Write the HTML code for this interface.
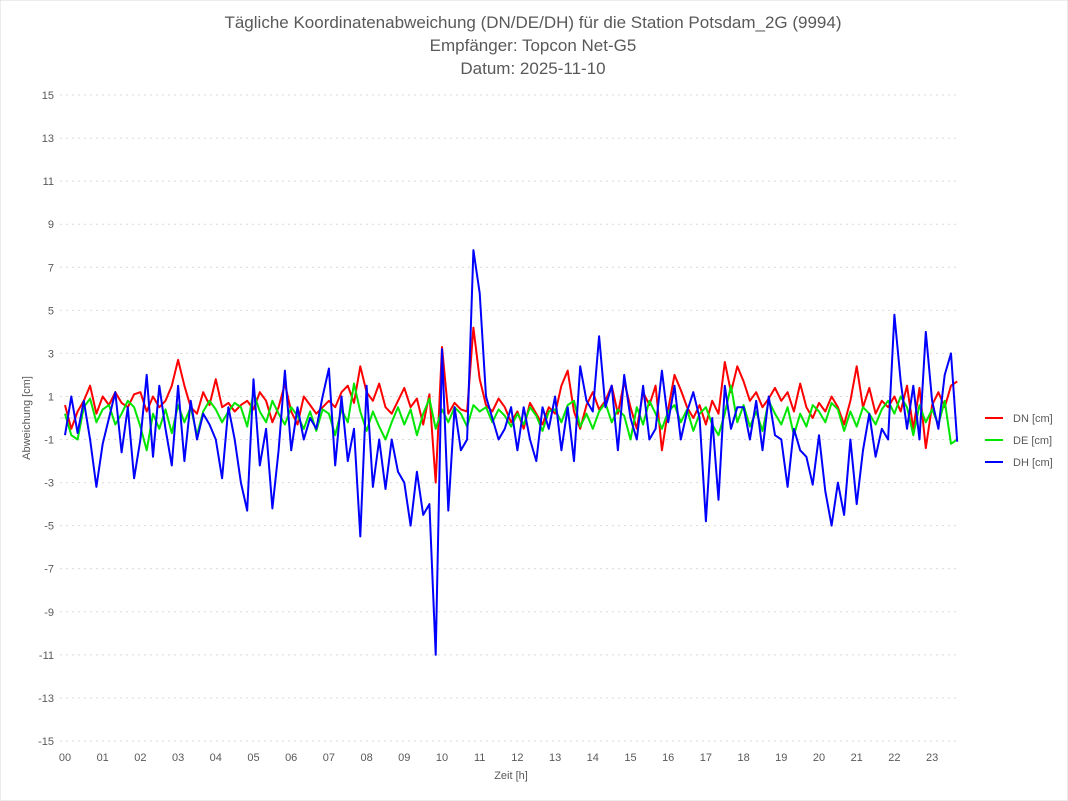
<!DOCTYPE html>
<html><head><meta charset="utf-8"><style>
body{margin:0;background:#fff;font-family:"Liberation Sans",sans-serif}
</style></head><body>
<svg id="chart" width="1068" height="801" xmlns="http://www.w3.org/2000/svg" style="display:block">
<rect width="1068" height="801" fill="#fff" stroke="#d9d9d9"/>
<g font-size="17" fill="#595959" text-anchor="middle">
<text x="533" y="28">Tägliche Koordinatenabweichung (DN/DE/DH) für die Station Potsdam_2G (9994)</text>
<text x="533" y="51">Empfänger: Topcon Net-G5</text>
<text x="533" y="74">Datum: 2025-11-10</text>
</g>
<g id="grid"></g>
<g id="yticks" font-size="11" fill="#595959" text-anchor="end"></g>
<g id="xticks" font-size="11" fill="#595959" text-anchor="middle"></g>
<g id="series"></g>
<text x="30" y="418" font-size="11" fill="#595959" text-anchor="middle" transform="rotate(-90 30 418)">Abweichung [cm]</text>
<text x="511" y="779" font-size="11" fill="#595959" text-anchor="middle">Zeit [h]</text>
<g id="legend" font-size="11" fill="#595959"></g>
</svg>
<script>
const yTicks=[15,13,11,9,7,5,3,1,-1,-3,-5,-7,-9,-11,-13,-15];
const xTickLabels=["00","01","02","03","04","05","06","07","08","09","10","11","12","13","14","15","16","17","18","19","20","21","22","23"];
const seriesNames=["DN [cm]","DE [cm]","DH [cm]"];
const dn=[0.6,-0.5,0.3,0.8,1.5,0.2, 1,0.6,1.2,0.7,0.5,1.1, 1.2,0.3,1,0.5,0.8,1.5, 2.7,1.5,0.5,0.2,1.2,0.6, 1.8,0.5,0.7,0.3,0.6,0.8, 0.4,1.2,0.8,-0.2,0.5,1.6, 0.3,-0.3,1,0.6,0.2,0.5, 0.8,0.5,1.2,1.5,0.7,2.4, 1.2,0.8,1.6,0.5,0.2,0.8, 1.4,0.5,0.9,-0.3,1.1,-3, 3.3,0.2,0.7,0.4,0.3,4.2, 1.8,0.6,0.3,0.9,0.5,-0.2, 0.3,-0.5,0.7,0.2,-0.3,0.5, 0.2,1.5,2.2,0.3,-0.5,0.6, 1.2,0.4,0.8,1.5,0.2,1.7, 0.5,-0.5,1.2,0.6,1.5,-1.5, 0.4,2,1.3,0.5,0,0.6, -0.3,0.8,0.2,2.6,1.2,2.4, 1.7,0.8,1.2,0.5,0.9,1.4, 0.8,1.2,0.3,1.6,0.5,0, 0.7,0.3,1,0.5,-0.3,0.8, 2.4,0.5,1.4,0.2,0.8,0.5, 1,0.3,1.5,-0.5,1.4,-1.4, 0.6,1.2,0.5,1.5,1.7];
const de=[0.2,-0.8,-1,0.5,0.9,-0.2, 0.4,0.6,-0.3,0.2,0.8,0.5, -0.4,-1.5,0.2,-0.5,0.4,-0.7, 0.6,-0.2,0.5,-0.8,0.3,0.8, 0.4,-0.2,0.3,0.7,0.5,-0.4, 1.2,0.3,-0.2,0.8,0.2,-0.3, 0.5,0.1,-0.5,0.3,-0.6,0.4, 0.2,-0.8,0.4,-0.2,1.6,0.3, -0.6,0.3,-0.4,-1,-0.2,0.5, -0.3,0.4,-0.8,0.2,0.9,-0.5, 0.4,-0.2,0.5,0.2,-0.4,0.6, 0.3,0.5,-0.2,0.4,0.1,-0.4, 0.2,-0.3,0.5,0.1,-0.6,0.3, 0.4,-0.2,0.6,0.8,-0.4,0.2, -0.5,0.3,0.7,-0.2,0.4,0.1, -1,0.5,-0.3,0.8,0.2,-0.5, 0.3,0.6,-0.2,0.4,-0.6,0.2, 0.5,-0.3,-0.8,0.2,1.5,-0.2, 0.6,-0.4,0.3,-0.6,0.8,0.2, -0.3,0.5,-0.8,0.2,-0.4,0.6, 0.3,-0.2,0.7,0.4,-0.6,0.3, -0.4,0.5,0.2,-0.3,0.4,0.8, 0.2,1,0.5,-0.8,0.6,-0.2, 0.4,-0.3,0.8,-1.2,-1];
const dh=[-0.8,1,-0.7,0.8,-1,-3.2, -1.2,0,1.2,-1.6,0.5,-2.8, -1,2,-1.8,1.5,-0.5,-2.2, 1.5,-2,0.8,-1,0.2,-0.3, -1,-2.8,0.5,-1,-3,-4.3, 1.8,-2.2,-0.5,-4.2,-1.5,2.2, -1.5,0.5,-1,0,-0.5,1, 2.3,-2.2,1,-2,-0.5,-5.5, 1.5,-3.2,-1,-3.3,-1,-2.5, -3,-5,-2.5,-4.5,-4,-11, 3.2,-4.3,0.5,-1.5,-1,7.8, 5.8,1,0,-1,-0.5,0.5, -1.5,0.5,-1,-2,0.5,-0.5, 1,-1.5,0.5,-2,2.4,0.8, 0.3,3.8,0.5,1.5,-1.5,2, 0,-1,1.5,-1,-0.5,2.2, -0.2,1.5,-1,0.3,1.2,0, -4.8,0,-3.8,1.5,-0.5,0.5, 0.5,-1,0.8,-1.5,1,-0.8, -1,-3.2,-0.5,-1.5,-1.8,-3.1, -0.8,-3.4,-5,-3,-4.5,-1, -4,-1.5,0.2,-1.8,-0.5,-1, 4.8,1.7,-0.5,1.5,-1,4, 0.8,-0.5,2,3,-1.1];
const colors=["#ff0000","#00e600","#0000ff"];
const X0=65,XH=37.7,Y0=418,YU=21.53;
const xs=h=>X0+h*XH, ys=v=>Y0-v*YU;
const NS="http://www.w3.org/2000/svg";
const mk=(t,a,p)=>{const e=document.createElementNS(NS,t);for(const k in a)e.setAttribute(k,a[k]);p.appendChild(e);return e;};
const grid=document.getElementById('grid'),yt=document.getElementById('yticks'),xt=document.getElementById('xticks'),sg=document.getElementById('series'),lg=document.getElementById('legend');
yTicks.forEach(v=>{const l=mk('line',{x1:60,x2:958,y1:ys(v),y2:ys(v),stroke:'#d9d9d9','stroke-dasharray':'2,4'},grid);


const t=mk('text',{x:54,y:ys(v)+4},yt);t.textContent=v;

});
const z=mk('line',{x1:60,x2:958,y1:ys(0),y2:ys(0),stroke:'#d0d0d0'},grid);


xTickLabels.forEach((s,i)=>{const t=mk('text',{x:xs(i),y:761},xt);t.textContent=s;

});
[dn,de,dh].forEach((arr,si)=>{const pts=arr.map((v,i)=>xs(i/6).toFixed(1)+','+ys(v).toFixed(1)).join(' ');
const p=mk('polyline',{points:pts,fill:'none',stroke:colors[si],'stroke-width':2,'stroke-linejoin':'round'},sg);


const ly=418+si*22;
const ll=mk('line',{x1:985,x2:1003,y1:ly,y2:ly,stroke:colors[si],'stroke-width':2},lg);


const lt=mk('text',{x:1013,y:ly+4},lg);lt.textContent=seriesNames[si];

});
</script>
</body></html>
